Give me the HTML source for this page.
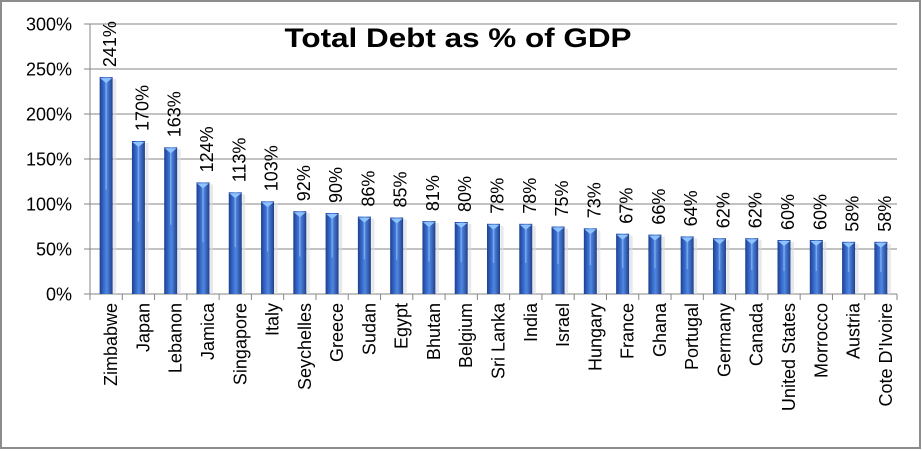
<!DOCTYPE html>
<html><head><meta charset="utf-8"><style>
html,body{margin:0;padding:0;background:#fff;}
svg{display:block;font-family:"Liberation Sans",sans-serif;}
</style></head><body>
<svg id="c" width="922" height="451" viewBox="0 0 922 451" xmlns="http://www.w3.org/2000/svg">
<defs>
<linearGradient id="bg" x1="0" x2="1" y1="0" y2="0">
<stop offset="0" stop-color="#1d3f8f"/><stop offset="0.35" stop-color="#3a6fd0"/><stop offset="0.55" stop-color="#4f86e0"/><stop offset="1" stop-color="#1f3f8a"/>
</linearGradient>
</defs>
<rect x="1" y="1" width="919" height="447" fill="#fff" stroke="#8c8c8c" stroke-width="2"/>
<g id="g"></g>
<text x="458" y="47" font-size="27" font-weight="bold" text-anchor="middle" textLength="347" lengthAdjust="spacingAndGlyphs">Total Debt as % of GDP</text>
</svg>
<script>
var g=document.getElementById('g'),h='';
for(var i=0;i<=6;i++){var y=294-45*i;
h+='<line x1="84" x2="897" y1="'+y+'" y2="'+y+'" stroke="#868686" stroke-width="1"/>';
h+='<text x="72" y="'+(y+6.5)+'" font-size="18" text-anchor="end" fill="#000">'+(50*i)+'%</text>';}
h+='<line x1="90" x2="90" y1="24" y2="300" stroke="#868686"/>';
var v=[241,170,163,124,113,103,92,90,86,85,81,80,78,78,75,73,67,66,64,62,62,60,60,58,58];
var n=["Zimbabwe","Japan","Lebanon","Jamica","Singapore","Italy","Seychelles","Greece","Sudan","Egypt","Bhutan","Belgium","Sri Lanka","India","Israel","Hungary","France","Ghana","Portugal","Germany","Canada","United States","Morrocco","Austria","Cote D'Ivoire"];
for(var i=0;i<=25;i++){var x=90+32.28*i;h+='<line x1="'+x+'" x2="'+x+'" y1="294" y2="300" stroke="#868686"/>';}
for(var i=0;i<25;i++){var cx=106.14+32.28*i,t=294-0.9*v[i];
h+='<rect x="'+(cx+7)+'" y="'+(t+2)+'" width="3" height="'+(294-t-2)+'" fill="#d8d8e0" opacity="0.6"/>';
h+='<rect x="'+(cx-6.5)+'" y="'+t+'" width="13" height="'+(294-t)+'" fill="url(#bg)"/>';
h+='<rect x="'+(cx-0.7)+'" y="'+(t+4)+'" width="1.4" height="'+Math.max(0,(294-t)*0.5)+'" fill="#8fb8f5" opacity="0.7"/>';
h+='<polygon points="'+(cx-6)+','+(t+1)+' '+(cx+6)+','+(t+1)+' '+cx+','+(t+6)+'" fill="#8fc3ff"/>';
h+='<text transform="translate('+(cx+10)+','+(t-10)+') rotate(-90)" font-size="18" fill="#000">'+v[i]+'%</text>';
h+='<text transform="translate('+(cx+11)+',303) rotate(-90)" font-size="18" text-anchor="end" fill="#000">'+n[i]+'</text>';}
g.innerHTML=h;
</script>
</body></html>
